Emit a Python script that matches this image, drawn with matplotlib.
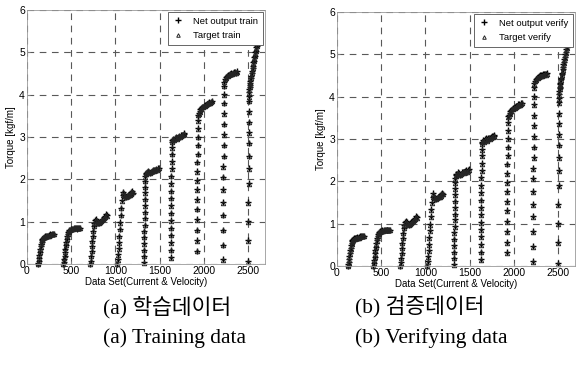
import numpy as np
import matplotlib
matplotlib.use("Agg")
import matplotlib.pyplot as plt

# ---------------- data (sample index, torque) ----------------
x1 = [120,125,130,135,140,145,150,155,160,165,170,175,180,190,200,210,220,230,240,250,260,270,280,290,300]
tgt1 = [0.00,0.02,0.07,0.15,0.22,0.29,0.36,0.41,0.47,0.52,0.56,0.59,0.61,0.63,0.64,0.65,0.65,0.66,0.67,0.67,0.69,0.70,0.70,0.71,0.70]
trn1 = [0.00,0.03,0.08,0.14,0.21,0.28,0.35,0.42,0.48,0.53,0.57,0.60,0.62,0.64,0.65,0.64,0.66,0.67,0.66,0.68,0.70,0.69,0.70,0.72,0.71]
ver1 = [0.01,0.04,0.09,0.16,0.23,0.30,0.37,0.43,0.49,0.54,0.58,0.61,0.63,0.65,0.66,0.65,0.67,0.68,0.67,0.69,0.70,0.70,0.71,0.72,0.72]

x2 = [410,415,420,425,430,435,440,445,450,455,460,465,470,480,490,500,510,520,530,540,550,560,570,580,590,600]
tgt2 = [0.00,0.06,0.13,0.21,0.29,0.37,0.45,0.53,0.60,0.66,0.71,0.75,0.78,0.80,0.81,0.82,0.83,0.83,0.84,0.84,0.84,0.85,0.85,0.85,0.85,0.84]
trn2 = [0.00,0.05,0.12,0.20,0.28,0.36,0.44,0.52,0.60,0.66,0.71,0.75,0.78,0.80,0.81,0.82,0.83,0.82,0.84,0.85,0.84,0.83,0.85,0.86,0.85,0.84]
ver2 = [0.01,0.06,0.14,0.22,0.30,0.38,0.46,0.54,0.61,0.67,0.72,0.76,0.78,0.80,0.82,0.82,0.84,0.83,0.84,0.85,0.85,0.84,0.86,0.86,0.86,0.85]

x3 = [715,720,725,730,735,740,745,750,755,760,770,780,790,800,810,820,830,840,850,860,870,880,890,900]
tgt3 = [0.00,0.08,0.18,0.30,0.42,0.54,0.66,0.78,0.89,0.97,1.02,1.05,1.02,0.99,0.98,0.99,1.00,1.02,1.04,1.06,1.09,1.12,1.16,1.14]
trn3 = [0.00,0.08,0.18,0.30,0.42,0.54,0.66,0.78,0.90,0.98,1.03,1.06,1.02,0.98,0.97,0.99,1.00,1.02,1.04,1.06,1.10,1.13,1.18,1.15]
ver3 = [0.01,0.09,0.19,0.31,0.43,0.55,0.67,0.79,0.90,0.98,1.04,1.07,1.03,0.99,0.98,1.00,1.01,1.03,1.05,1.07,1.10,1.14,1.18,1.16]

x4 = [1020,1025,1030,1035,1040,1045,1050,1055,1060,1065,1070,1080,1090,1100,1110,1120,1130,1140,1150,1160,1170,1180,1190,1200]
tgt4 = [0.00,0.10,0.22,0.36,0.50,0.66,0.82,0.98,1.15,1.32,1.50,1.62,1.70,1.66,1.61,1.59,1.60,1.62,1.62,1.64,1.66,1.69,1.71,1.69]
trn4 = [0.00,0.11,0.23,0.37,0.51,0.67,0.83,0.99,1.16,1.33,1.51,1.63,1.71,1.65,1.60,1.58,1.60,1.62,1.61,1.64,1.66,1.70,1.72,1.68]
ver4 = [0.01,0.12,0.24,0.38,0.52,0.68,0.84,1.00,1.17,1.34,1.52,1.64,1.72,1.66,1.61,1.59,1.61,1.63,1.62,1.65,1.67,1.70,1.73,1.69]

x5 = [1323,1324,1325,1326,1327,1328,1329,1330,1331,1332,1333,1334,1335,1336,1337,
      1340,1350,1360,1370,1380,1390,1400,1410,1420,1430,1440,1450,1460,1470,1480,1490]
tgt5 = [0.03,0.18,0.33,0.48,0.63,0.78,0.93,1.08,1.23,1.38,1.53,1.68,1.83,1.96,2.06,
        2.12,2.15,2.17,2.19,2.18,2.16,2.17,2.19,2.21,2.20,2.21,2.22,2.24,2.23,2.25,2.26]
trn5 = [0.04,0.19,0.33,0.49,0.63,0.79,0.93,1.09,1.23,1.39,1.53,1.69,1.83,1.97,2.07,
        2.13,2.16,2.17,2.20,2.18,2.15,2.17,2.20,2.22,2.20,2.21,2.23,2.25,2.22,2.26,2.27]
ver5 = [0.05,0.20,0.34,0.50,0.64,0.80,0.94,1.10,1.24,1.40,1.54,1.70,1.84,1.98,2.08,
        2.14,2.17,2.18,2.21,2.19,2.16,2.18,2.21,2.23,2.21,2.22,2.24,2.26,2.23,2.27,2.28]

x6 = [1622,1623,1624,1625,1626,1627,1628,1629,1630,1631,1632,1633,1634,1635,1636,1637,1638,
      1640,1650,1660,1670,1680,1690,1700,1710,1720,1730,1740,1750,1760,1770,1780]
tgt6 = [0.15,0.32,0.50,0.68,0.85,1.02,1.20,1.38,1.55,1.72,1.90,2.08,2.25,2.42,2.60,2.75,2.88,
        2.92,2.95,2.93,2.97,3.00,2.98,2.96,3.00,3.02,3.00,3.03,3.05,3.04,3.06,3.08]
trn6 = [0.16,0.33,0.51,0.69,0.86,1.03,1.21,1.39,1.56,1.73,1.91,2.09,2.26,2.43,2.61,2.76,2.89,
        2.93,2.96,2.94,2.98,3.01,2.98,2.97,3.01,3.02,3.01,3.04,3.05,3.05,3.07,3.09]
ver6 = [0.17,0.34,0.52,0.70,0.87,1.04,1.22,1.40,1.57,1.74,1.92,2.10,2.27,2.44,2.62,2.77,2.90,
        2.94,2.97,2.95,2.99,3.02,2.99,2.98,3.02,3.03,3.02,3.05,3.06,3.06,3.08,3.10]

x7 = [1918,1919,1920,1921,1922,1923,1924,1925,1926,1927,1928,1929,1930,1931,1932,1933,
      1940,1950,1960,1970,1980,1990,2000,2010,2020,2030,2040,2050,2060,2070,2080,2090]
tgt7 = [0.30,0.55,0.80,1.05,1.30,1.52,1.75,1.97,2.18,2.40,2.60,2.80,3.00,3.20,3.38,3.52,
        3.55,3.60,3.64,3.67,3.70,3.71,3.73,3.74,3.76,3.77,3.78,3.80,3.81,3.80,3.82,3.84]
trn7 = [0.31,0.56,0.81,1.06,1.31,1.53,1.76,1.98,2.19,2.41,2.61,2.81,3.01,3.21,3.39,3.53,
        3.56,3.61,3.65,3.68,3.70,3.72,3.73,3.75,3.76,3.78,3.78,3.81,3.82,3.80,3.83,3.85]
ver7 = [0.32,0.57,0.82,1.07,1.32,1.54,1.77,1.99,2.20,2.42,2.62,2.82,3.02,3.22,3.40,3.54,
        3.57,3.62,3.66,3.69,3.71,3.73,3.74,3.76,3.77,3.79,3.79,3.82,3.83,3.81,3.84,3.86]

x8 = [2213,2214,2215,2216,2217,2218,2219,2220,2221,2222,2223,2224,2225,2226,2227,2228,
      2230,2240,2250,2260,2270,2280,2290,2300,2310,2320,2330,2340,2350,2360,2370]
tgt8 = [0.10,0.45,0.80,1.15,1.45,1.75,2.05,2.30,2.55,2.80,3.05,3.30,3.55,3.80,4.00,4.20,
        4.30,4.36,4.40,4.43,4.45,4.47,4.48,4.49,4.50,4.50,4.51,4.52,4.53,4.52,4.54]
trn8 = [0.11,0.46,0.81,1.16,1.46,1.76,2.06,2.31,2.56,2.81,3.06,3.31,3.56,3.81,4.01,4.21,
        4.31,4.37,4.41,4.44,4.46,4.47,4.49,4.50,4.51,4.50,4.52,4.53,4.53,4.52,4.55]
ver8 = [0.12,0.47,0.82,1.17,1.47,1.77,2.07,2.32,2.57,2.82,3.07,3.32,3.57,3.82,4.02,4.22,
        4.32,4.38,4.42,4.45,4.47,4.48,4.50,4.51,4.52,4.51,4.53,4.54,4.54,4.53,4.56]

x9 = [2500,2501,2502,2503,2504,2505,2506,2507,2508,2509,2510,2511,2512,2513,2514,2515,2516,
      2520,2525,2530,2535,2540,2545,2550,2555,2560,2565,2570,2575,2580,2585,2590,2595,2600]
tgt9 = [0.05,0.55,1.00,1.45,1.90,2.25,2.55,2.85,3.10,3.35,3.60,3.85,3.95,4.05,4.12,4.18,4.22,
        4.27,4.31,4.39,4.43,4.51,4.55,4.63,4.67,4.75,4.79,4.87,4.91,4.99,5.03,5.11,5.15,5.23]
trn9 = [0.06,0.56,1.01,1.46,1.91,2.26,2.56,2.86,3.11,3.36,3.61,3.86,3.96,4.06,4.13,4.19,4.23,
        4.28,4.32,4.40,4.44,4.52,4.56,4.64,4.68,4.76,4.80,4.88,4.92,5.00,5.04,5.12,5.16,5.24]
ver9 = [0.07,0.57,1.02,1.47,1.92,2.27,2.57,2.87,3.12,3.37,3.62,3.87,3.97,4.07,4.14,4.20,4.24,
        4.29,4.33,4.41,4.45,4.53,4.57,4.65,4.69,4.77,4.81,4.89,4.93,5.01,5.05,5.13,5.17,5.25]

x_ticks = [0, 500, 1000, 1500, 2000, 2500]
y_ticks = [0, 1, 2, 3, 4, 5, 6]
x_label = "Data Set(Current & Velocity)"
y_label = "Torque [kgf/m]"
captions_kr = ["(a) 학습데이터", "(b) 검증데이터"]
captions_en = ["(a) Training data", "(b) Verifying data"]
legend_train = ["Net output train", "Target train"]
legend_verify = ["Net output verify", "Target verify"]

xs = np.concatenate([x1, x2, x3, x4, x5, x6, x7, x8, x9])
target = np.concatenate([tgt1, tgt2, tgt3, tgt4, tgt5, tgt6, tgt7, tgt8, tgt9])
out_train = np.concatenate([trn1, trn2, trn3, trn4, trn5, trn6, trn7, trn8, trn9])
out_verify = np.concatenate([ver1, ver2, ver3, ver4, ver5, ver6, ver7, ver8, ver9])

tick_font = ['Liberation Sans Narrow', 'Liberation Sans', 'DejaVu Sans']

fig = plt.figure(figsize=(5.76, 3.67), dpi=100)
fig.patch.set_facecolor("white")

ax1 = fig.add_axes([27/576, 1-264/367, 238/576, 254/367])
ax2 = fig.add_axes([337/576, 1-266/367, 238/576, 254/367])


def style(ax, out, labels):
    ax.grid(True, color="0.35", linestyle=(0, (6, 5)), linewidth=0.8)
    ax.set_axisbelow(True)
    l1, = ax.plot(xs, out, linestyle="none", marker="+", color="black",
                  markersize=4.8, markeredgewidth=1.0, clip_on=False)
    l2, = ax.plot(xs, target, linestyle="none", marker="^", markerfacecolor="none",
                  markeredgecolor="0.15", markersize=3.2, markeredgewidth=0.7, clip_on=False)
    ax.set_xlim(0, 2690)
    ax.set_ylim(0, 6)
    ax.set_xticks(x_ticks)
    ax.set_yticks(y_ticks)
    ax.tick_params(direction="in", length=2, width=0.5, color="0.6", pad=1.5, labelsize=7.5)
    for lab in ax.get_xticklabels() + ax.get_yticklabels():
        lab.set_family(tick_font)
    for s in ax.spines.values():
        s.set_color("0.6")
        s.set_linewidth(0.6)
    ax.set_xlabel(x_label, fontsize=7, family=tick_font, labelpad=1)
    ax.set_ylabel(y_label, fontsize=7, family=tick_font, labelpad=2)
    leg = ax.legend([l1, l2], labels, loc="upper right", bbox_to_anchor=(1.0, 1.0),
                    prop={"family": tick_font, "size": 6.8},
                    frameon=True, fancybox=False, framealpha=1, edgecolor="0.3",
                    handlelength=1.2, handletextpad=1.0, borderpad=0.5,
                    labelspacing=0.6, markerscale=0.8, borderaxespad=0.2)
    leg.get_frame().set_linewidth(0.6)


style(ax1, out_train, legend_train)
style(ax2, out_verify, legend_verify)

cap_font = ['Liberation Serif', 'Noto Sans CJK KR']
fs = 15.5
fig.text(103/576, 1-307/367, captions_kr[0], family=cap_font, fontsize=fs, va="center", ha="left")
fig.text(103/576, 1-338/367, captions_en[0], family=cap_font, fontsize=fs, va="center", ha="left")
fig.text(355/576, 1-307/367, captions_kr[1], family=cap_font, fontsize=fs, va="center", ha="left")
fig.text(355/576, 1-338/367, captions_en[1], family=cap_font, fontsize=fs, va="center", ha="left")

fig.savefig("out.png", dpi=100, facecolor="white")
